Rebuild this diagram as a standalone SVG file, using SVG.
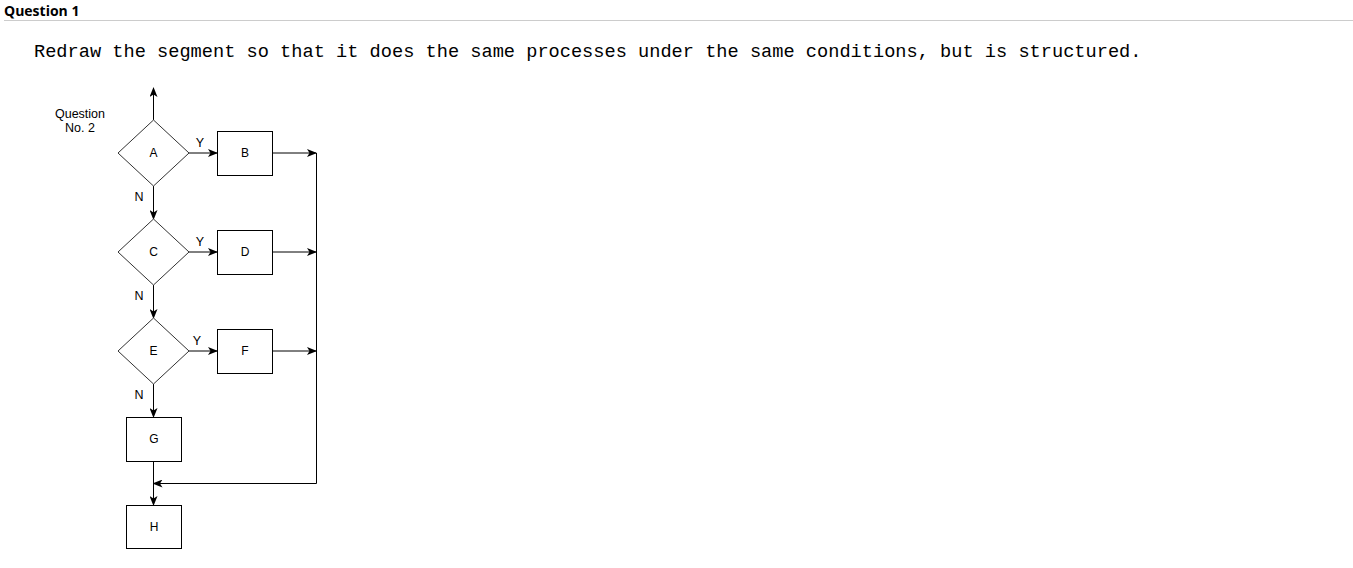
<svg xmlns="http://www.w3.org/2000/svg" width="1353" height="568" viewBox="0 0 1353 568">
<style>
.hd{font-family:"Open Sans","Noto Sans",sans-serif;font-weight:bold;font-size:14px;fill:#000}
.ins{font-family:"Liberation Mono","Courier New",monospace;font-size:18.65px;fill:#000}
.lbl{font-family:"Liberation Sans",Arial,sans-serif;font-size:12.5px;fill:#000;text-anchor:middle}
.nd{font-family:"Liberation Sans",Arial,sans-serif;font-size:12px;fill:#000;text-anchor:middle;dominant-baseline:central}
.shape{fill:#fff;stroke:#000;stroke-width:1}
.dia{fill:#fff;stroke:#333;stroke-width:1}
.ln{fill:none;stroke:#000;stroke-width:1}
</style>
<defs>
<marker id="arr" viewBox="0 0 10 8" markerWidth="10" markerHeight="8" refX="9" refY="4" orient="auto" markerUnits="userSpaceOnUse">
<path d="M0,0 L10,4 L0,8 L2.5,4 z" fill="#000"/>
</marker>
</defs>
<rect width="1353" height="568" fill="#fff"/>
<text class="hd" x="4" y="16">Question 1</text>
<line x1="4" y1="20.5" x2="1353" y2="20.5" stroke="#ccc" stroke-width="1"/>
<text class="ins" x="34" y="57">Redraw the segment so that it does the same processes under the same conditions, but is structured.</text>
<text class="lbl" x="80" y="118">Question</text>
<text class="lbl" x="80" y="132">No. 2</text>
<g id="connectors">
<line class="ln" x1="153.5" y1="120" x2="153.5" y2="88" marker-end="url(#arr)"/>
<line class="ln" x1="189" y1="153" x2="217" y2="153" marker-end="url(#arr)"/>
<line class="ln" x1="272" y1="153" x2="316" y2="153" marker-end="url(#arr)"/>
<line class="ln" x1="153.5" y1="186" x2="153.5" y2="219" marker-end="url(#arr)"/>
<line class="ln" x1="189" y1="252" x2="217" y2="252" marker-end="url(#arr)"/>
<line class="ln" x1="272" y1="252" x2="316" y2="252" marker-end="url(#arr)"/>
<line class="ln" x1="153.5" y1="285" x2="153.5" y2="318" marker-end="url(#arr)"/>
<line class="ln" x1="189" y1="351" x2="217" y2="351" marker-end="url(#arr)"/>
<line class="ln" x1="272" y1="351" x2="316" y2="351" marker-end="url(#arr)"/>
<line class="ln" x1="153.5" y1="384" x2="153.5" y2="417" marker-end="url(#arr)"/>
<line class="ln" x1="153.5" y1="461" x2="153.5" y2="505" marker-end="url(#arr)"/>
<polyline class="ln" points="316.5,153 316.5,483.5 153.5,483.5" marker-end="url(#arr)"/>
<text class="lbl" x="200" y="147">Y</text>
<text class="lbl" x="200" y="246">Y</text>
<text class="lbl" x="197" y="345">Y</text>
<text class="lbl" x="139" y="201">N</text>
<text class="lbl" x="139" y="300">N</text>
<text class="lbl" x="139" y="399">N</text>
</g>
<g id="A"><polygon class="dia" points="153.5,120 189,153 153.5,186 118,153"/><text class="nd" x="153.5" y="153">A</text></g>
<g id="B"><rect class="shape" x="217.5" y="131.5" width="55" height="44"/><text class="nd" x="245" y="153">B</text></g>
<g id="C"><polygon class="dia" points="153.5,219 189,252 153.5,285 118,252"/><text class="nd" x="153.5" y="252">C</text></g>
<g id="D"><rect class="shape" x="217.5" y="230.5" width="55" height="44"/><text class="nd" x="245" y="252">D</text></g>
<g id="E"><polygon class="dia" points="153.5,318 189,351 153.5,384 118,351"/><text class="nd" x="153.5" y="351">E</text></g>
<g id="F"><rect class="shape" x="217.5" y="329.5" width="55" height="44"/><text class="nd" x="245" y="351">F</text></g>
<g id="G"><rect class="shape" x="126.5" y="417.5" width="55" height="44"/><text class="nd" x="154" y="439">G</text></g>
<g id="H"><rect class="shape" x="126.5" y="505.5" width="55" height="43"/><text class="nd" x="154" y="527">H</text></g>
</svg>
